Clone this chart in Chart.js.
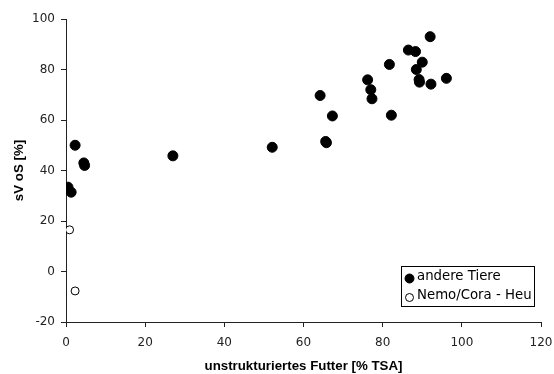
<!DOCTYPE html>
<html>
<head>
<meta charset="utf-8">
<script src="https://cdn.jsdelivr.net/npm/chart.js@4/dist/chart.umd.min.js"></script>
<style>
  html, body { margin: 0; padding: 0; background: #fff; }
  #wrap { width: 554px; height: 374px; }
</style>
</head>
<body>
<div id="wrap"><canvas id="c" width="554" height="374"></canvas></div>
<script>
// Unstructured feed share [% TSA] vs. sV oS [%]
const otherX = [2.3, 4.5, 4.7, 0.5, 1.3, 27.0, 52.1, 64.2, 67.3, 65.6, 65.8, 76.2, 77.0, 77.3, 81.7, 82.2, 86.5, 88.3, 92.0, 90.0, 88.5, 89.2, 89.3, 92.2, 96.1];
const otherY = [50.0, 43.0, 42.0, 33.4, 31.4, 45.8, 49.2, 69.7, 61.6, 51.5, 51.0, 75.9, 72.0, 68.4, 82.0, 61.9, 87.7, 87.1, 93.0, 82.9, 80.0, 76.0, 75.0, 74.2, 76.5];
const nemoX = [0.9, 2.3];
const nemoY = [16.5, -7.7];
const xTicks = [0, 20, 40, 60, 80, 100, 120];
const yTicks = [-20, 0, 20, 40, 60, 80, 100];
const seriesNames = ['andere Tiere', 'Nemo/Cora - Heu'];

const toPoints = (xs, ys) => xs.map((x, i) => ({ x: x, y: ys[i] }));

const tickFont = { family: 'DejaVu Sans, Verdana, sans-serif', size: 12 };
const titleFont = { family: 'Liberation Sans, Arial, sans-serif', size: 13.3, weight: 'bold' };

// Boxed legend drawn inside the plot area, lower right
const boxLegend = {
  id: 'boxLegend',
  afterDraw(chart) {
    const ctx = chart.ctx;
    const area = chart.chartArea;
    ctx.save();
    ctx.font = '13.3px "DejaVu Sans", Verdana, sans-serif';
    const widths = chart.data.datasets.map(d => ctx.measureText(d.label).width);
    const w = Math.round(Math.max(...widths) + 18);
    const h = 40;
    const right = Math.round(area.right) - 7;
    const bottom = Math.round(area.bottom) - 16;
    const left = right - w + 0.5;
    const top = bottom - h + 0.5;
    ctx.fillStyle = '#fff';
    ctx.fillRect(left, top, w, h);
    ctx.strokeStyle = '#000';
    ctx.lineWidth = 1;
    ctx.strokeRect(left, top, w, h);
    chart.data.datasets.forEach((d, i) => {
      const cy = top + 10.5 + i * 19;
      ctx.beginPath();
      ctx.arc(left + 8, cy + 1.5, i === 0 ? 4.5 : 4, 0, Math.PI * 2);
      ctx.fillStyle = d.backgroundColor;
      ctx.fill();
      ctx.strokeStyle = d.borderColor;
      ctx.stroke();
      ctx.fillStyle = '#000';
      ctx.textBaseline = 'middle';
      ctx.textAlign = 'left';
      ctx.fillText(d.label, left + 15.5, cy);
    });
    ctx.restore();
  }
};

new Chart(document.getElementById('c'), {
  type: 'scatter',
  data: {
    datasets: [
      {
        label: seriesNames[0],
        data: toPoints(otherX, otherY),
        backgroundColor: '#000',
        borderColor: '#000',
        borderWidth: 1,
        pointRadius: 5,
        pointHoverRadius: 5
      },
      {
        label: seriesNames[1],
        data: toPoints(nemoX, nemoY),
        backgroundColor: '#fff',
        borderColor: '#000',
        borderWidth: 1,
        pointRadius: 4,
        pointHoverRadius: 4
      }
    ]
  },
  options: {
    responsive: false,
    animation: false,
    events: [],
    layout: { padding: { left: 0, right: 13, top: 19, bottom: 0 } },
    plugins: {
      legend: { display: false },
      tooltip: { enabled: false }
    },
    scales: {
      x: {
        type: 'linear',
        min: xTicks[0],
        max: xTicks[xTicks.length - 1],
        afterBuildTicks(scale) { scale.ticks = xTicks.map(v => ({ value: v })); },
        afterFit(scale) { scale.height = 52; scale.paddingLeft = 0; scale.paddingRight = 0; },
        grid: { drawOnChartArea: false, drawTicks: true, tickLength: 5, color: '#222' },
        border: { display: true, color: '#222', width: 1 },
        ticks: { font: tickFont, color: '#222', padding: 9, maxRotation: 0 },
        title: {
          display: true,
          text: 'unstrukturiertes Futter [% TSA]',
          font: titleFont,
          color: '#000',
          padding: { top: 5, bottom: 0 }
        }
      },
      y: {
        type: 'linear',
        min: yTicks[0],
        max: yTicks[yTicks.length - 1],
        afterBuildTicks(scale) { scale.ticks = yTicks.map(v => ({ value: v })); },
        afterFit(scale) { scale.width = 66; scale.paddingTop = 0; scale.paddingBottom = 0; },
        grid: { drawOnChartArea: false, drawTicks: true, tickLength: 5, color: '#222' },
        border: { display: true, color: '#222', width: 1 },
        ticks: { font: tickFont, color: '#222', padding: 6 },
        title: {
          display: true,
          text: 'sV oS [%]',
          font: titleFont,
          color: '#000',
          padding: { top: 11, bottom: 4 }
        }
      }
    }
  },
  plugins: [boxLegend]
});
</script>
</body>
</html>
